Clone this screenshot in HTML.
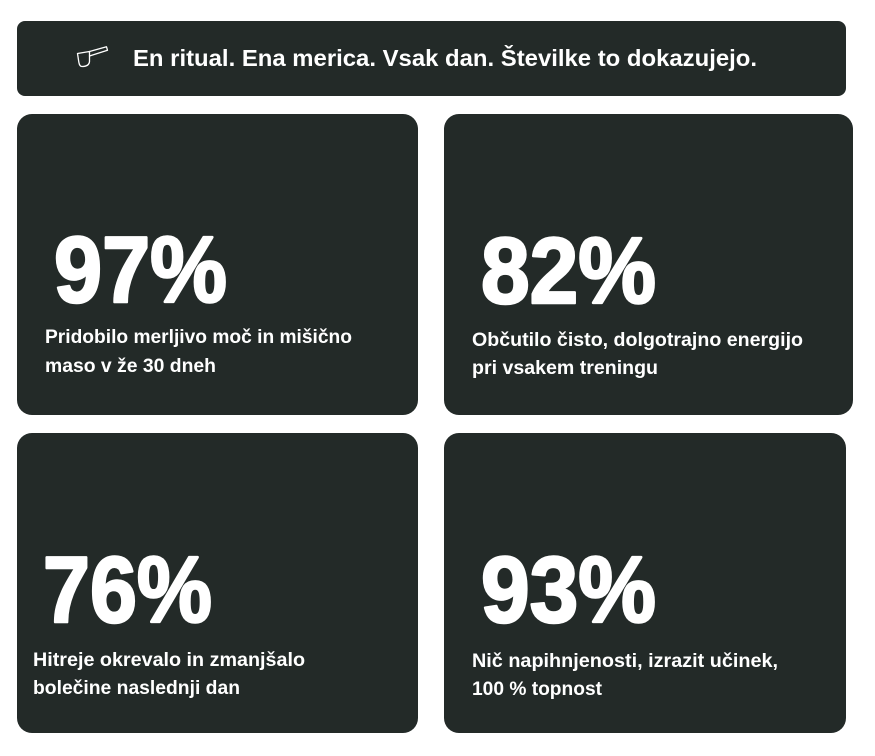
<!DOCTYPE html>
<html>
<head>
<meta charset="utf-8">
<style>
  html, body { margin: 0; padding: 0; background: #ffffff; }
  body { width: 875px; height: 756px; overflow: hidden; }
  svg { display: block; }
  .num { font-family: "Liberation Sans", sans-serif; font-weight: bold; font-size: 94px; fill: #ffffff; stroke: #ffffff; stroke-width: 2.6px; stroke-linejoin: round; }
  .desc { font-family: "Liberation Sans", sans-serif; font-weight: bold; font-size: 19.5px; fill: #ffffff; }
  .head { font-family: "Liberation Sans", sans-serif; font-weight: bold; font-size: 23.5px; fill: #ffffff; }
</style>
</head>
<body>
<svg width="875" height="756" viewBox="0 0 875 756" xmlns="http://www.w3.org/2000/svg">
  <rect x="0" y="0" width="875" height="756" fill="#ffffff"/>

  <!-- Header bar -->
  <rect x="17" y="21" width="829" height="75" rx="8" ry="8" fill="#232a28"/>
  <!-- scoop icon -->
  <g fill="none" stroke="#ffffff" stroke-width="1.3" stroke-linejoin="round" stroke-linecap="round">
    <path d="M77.5 53.5 L89.5 51.5 L89.5 61.5 Q89 66.5 82 66.5 Q79.5 66.5 78.8 62 Z"/>
    <path d="M89.5 51.5 L106.5 46.8 L107.5 50.3 L89.5 56"/>
  </g>
  <text class="head" x="133" y="66" textLength="624" lengthAdjust="spacingAndGlyphs">En ritual. Ena merica. Vsak dan. Številke to dokazujejo.</text>

  <!-- Card 1 -->
  <rect x="17" y="114" width="401" height="301" rx="15" ry="15" fill="#232a28"/>
  <text class="num" x="54" y="302" textLength="173" lengthAdjust="spacingAndGlyphs">97%</text>
  <text class="desc" x="45" y="343" textLength="307" lengthAdjust="spacingAndGlyphs">Pridobilo merljivo moč in mišično</text>
  <text class="desc" x="45" y="372" textLength="171" lengthAdjust="spacingAndGlyphs">maso v že 30 dneh</text>

  <!-- Card 2 -->
  <rect x="444" y="114" width="409" height="301" rx="15" ry="15" fill="#232a28"/>
  <text class="num" x="481" y="303" textLength="175" lengthAdjust="spacingAndGlyphs">82%</text>
  <text class="desc" x="472" y="346" textLength="331" lengthAdjust="spacingAndGlyphs">Občutilo čisto, dolgotrajno energijo</text>
  <text class="desc" x="472" y="374" textLength="186" lengthAdjust="spacingAndGlyphs">pri vsakem treningu</text>

  <!-- Card 3 -->
  <rect x="17" y="433" width="401" height="300" rx="15" ry="15" fill="#232a28"/>
  <text class="num" x="43" y="622" textLength="169" lengthAdjust="spacingAndGlyphs">76%</text>
  <text class="desc" x="33" y="666" textLength="272" lengthAdjust="spacingAndGlyphs">Hitreje okrevalo in zmanjšalo</text>
  <text class="desc" x="33" y="694" textLength="207" lengthAdjust="spacingAndGlyphs">bolečine naslednji dan</text>

  <!-- Card 4 -->
  <rect x="444" y="433" width="402" height="300" rx="15" ry="15" fill="#232a28"/>
  <text class="num" x="481" y="622" textLength="175" lengthAdjust="spacingAndGlyphs">93%</text>
  <text class="desc" x="472" y="667" textLength="306" lengthAdjust="spacingAndGlyphs">Nič napihnjenosti, izrazit učinek,</text>
  <text class="desc" x="472" y="695" textLength="130" lengthAdjust="spacingAndGlyphs">100 % topnost</text>
</svg>
</body>
</html>
